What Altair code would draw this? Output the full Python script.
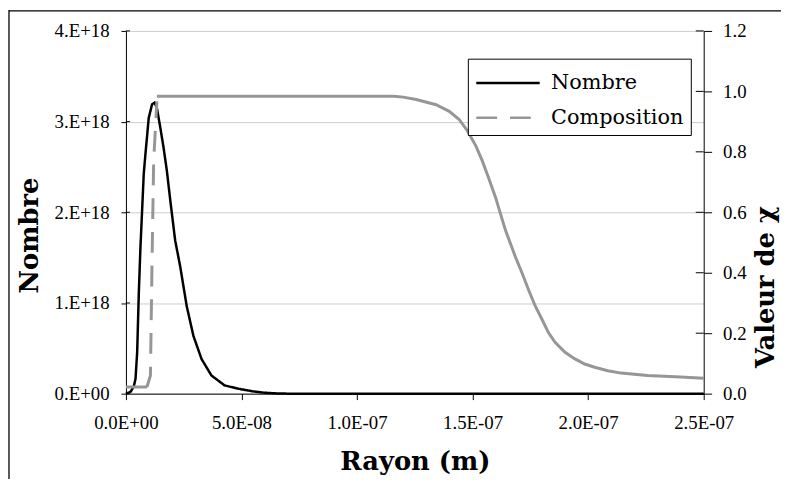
import json
import altair as alt
import pandas as pd

# ---------------- data ----------------
series = ["Nombre", "Composition"]
series_colors = ["#000000", "#969696"]

# Nombre (left axis), radius in m
nombre_r = [0.0, 2.0e-9, 3.4e-9, 4.15e-9, 4.86e-9, 5.57e-9, 6.29e-9, 7.0e-9, 7.7e-9, 8.43e-9,
            9.86e-9, 1.13e-8, 1.24e-8, 1.34e-8, 1.49e-8, 1.63e-8, 1.77e-8, 1.92e-8, 2.13e-8,
            2.35e-8, 2.63e-8, 2.92e-8, 3.27e-8, 3.70e-8, 4.27e-8, 4.85e-8, 5.5e-8, 6.0e-8,
            6.5e-8, 7.0e-8, 1.0e-7, 1.5e-7, 2.0e-7, 2.5e-7]
nombre_v = [0.0, 0.02e18, 0.08e18, 0.164e18, 0.456e18, 1.11e18, 1.62e18, 2.02e18, 2.42e18, 2.64e18,
            3.04e18, 3.19e18, 3.21e18, 3.15e18, 2.93e18, 2.71e18, 2.46e18, 2.13e18, 1.69e18,
            1.40e18, 0.965e18, 0.637e18, 0.383e18, 0.200e18, 0.091e18, 0.055e18, 0.025e18, 0.01e18,
            0.003e18, 0.0, 0.0, 0.0, 0.0, 0.0]

# Composition (right axis): low flat part, dashed rise, high part
comp_low_r = [0.0, 9.1e-9]
comp_low_v = [0.022, 0.022]
comp_rise_r = [9.1e-9, 1.06e-8, 1.13e-8, 1.20e-8, 1.34e-8]
comp_rise_v = [0.022, 0.06, 0.44, 0.77, 0.967]
comp_high_r = [1.34e-8, 1.16e-7, 1.20e-7, 1.256e-7, 1.342e-7, 1.399e-7, 1.442e-7, 1.478e-7,
               1.514e-7, 1.542e-7, 1.571e-7, 1.599e-7, 1.642e-7, 1.685e-7, 1.714e-7, 1.742e-7,
               1.771e-7, 1.80e-7, 1.828e-7, 1.857e-7, 1.90e-7, 1.943e-7, 1.985e-7, 2.028e-7,
               2.085e-7, 2.143e-7, 2.257e-7, 2.40e-7, 2.50e-7]
comp_high_v = [0.984, 0.984, 0.981, 0.973, 0.956, 0.934, 0.907, 0.869,
               0.820, 0.770, 0.710, 0.650, 0.541, 0.453, 0.399, 0.344,
               0.290, 0.246, 0.202, 0.170, 0.137, 0.115, 0.098, 0.0875,
               0.076, 0.068, 0.060, 0.055, 0.051]

x_ticks = [0.0, 5e-8, 1e-7, 1.5e-7, 2e-7, 2.5e-7]
x_tick_labels = ["0.0E+00", "5.0E-08", "1.0E-07", "1.5E-07", "2.0E-07", "2.5E-07"]
left_ticks = [0.0, 1e18, 2e18, 3e18, 4e18]
left_tick_labels = ["0.E+00", "1.E+18", "2.E+18", "3.E+18", "4.E+18"]
right_ticks = [0.0, 0.2, 0.4, 0.6, 0.8, 1.0, 1.2]

# ---------------- layout ----------------
W, H = 583, 366
PAD_L, PAD_T, PAD_R, PAD_B = 119, 21, 78, 86
LABEL_FONT = "Liberation Serif"
TITLE_FONT = "DejaVu Serif"

df_n = pd.DataFrame({"r": nombre_r, "v": nombre_v, "serie": "Nombre"})
df_rise = pd.DataFrame({"r": comp_rise_r, "c": comp_rise_v, "serie": "Composition"})
df_solid = pd.concat([
    pd.DataFrame({"r": comp_low_r, "c": comp_low_v, "seg": "low"}),
    pd.DataFrame({"r": comp_high_r, "c": comp_high_v, "seg": "high"}),
])
df_lt = pd.DataFrame({"v": left_ticks})
df_rt = pd.DataFrame({"c": right_ticks})
df_one = pd.DataFrame({"a": [0]})

xscale = alt.Scale(domain=[0, 2.5e-7], nice=False)
lscale = alt.Scale(domain=[0, 4e18], nice=False)
rscale = alt.Scale(domain=[0, 1.2], nice=False)
cscale = alt.Scale(domain=series, range=series_colors)
dscale = alt.Scale(domain=series, range=[[1, 0], [21, 13]])

x_axis = alt.Axis(values=x_ticks, labelExpr=json.dumps(x_tick_labels) + "[round(datum.value/5e-8)]",
                  title="Rayon (m)", tickSize=6, labelPadding=14, grid=False,
                  labelFlush=False, labelOverlap=False,
                  titleY=69, titleBaseline="middle")
left_axis = alt.Axis(values=left_ticks, labelExpr=json.dumps(left_tick_labels) + "[round(datum.value/1e18)]",
                     title="Nombre", tickSize=5, labelPadding=12, grid=True, gridColor="#cccccc",
                     labelFlush=False, labelOverlap=False,
                     titleX=-97, titleY=206, titleAngle=270, titleBaseline="middle", titleAlign="center")
right_axis = alt.Axis(values=right_ticks, format=".1f", orient="right", title="Valeur de χ",
                      tickSize=8, labelPadding=11, grid=False,
                      labelFlush=False, labelOverlap=False,
                      titleX=62, titleY=258, titleAngle=270, titleBaseline="middle", titleAlign="center")

legend = alt.Legend(title=None, symbolType="M-1,0H3", symbolSize=1024, labelOffset=42)

nombre = alt.Chart(df_n).mark_line(strokeWidth=2.5).encode(
    x=alt.X("r:Q", scale=xscale, axis=x_axis),
    y=alt.Y("v:Q", scale=lscale, axis=left_axis),
    color=alt.Color("serie:N", scale=cscale, legend=legend),
    strokeDash=alt.StrokeDash("serie:N", scale=dscale, legend=legend),
)
left_inner = alt.Chart(df_lt).mark_rule(color="black", strokeWidth=1).encode(
    y=alt.Y("v:Q", scale=lscale, axis=left_axis), x=alt.value(0), x2=alt.value(4))
frame_left = alt.Chart(df_one).mark_rule(color="black", strokeWidth=1.3).encode(
    x=alt.value(1 - PAD_L), y=alt.value(-PAD_T), y2=alt.value(H + PAD_B))
frame_top = alt.Chart(df_one).mark_rule(color="black", strokeWidth=1.3).encode(
    y=alt.value(0.7 - PAD_T), x=alt.value(1 - PAD_L), x2=alt.value(W + PAD_R))

rise = alt.Chart(df_rise).mark_line(strokeWidth=3).encode(
    x=alt.X("r:Q", scale=xscale, axis=x_axis),
    y=alt.Y("c:Q", scale=rscale, axis=right_axis),
    color=alt.Color("serie:N", scale=cscale, legend=legend),
    strokeDash=alt.StrokeDash("serie:N", scale=dscale, legend=legend),
)
solid = alt.Chart(df_solid).mark_line(strokeWidth=3, color=series_colors[1]).encode(
    x=alt.X("r:Q", scale=xscale, axis=x_axis),
    y=alt.Y("c:Q", scale=rscale, axis=right_axis),
    detail="seg:N",
)
right_inner = alt.Chart(df_rt).mark_rule(color="black", strokeWidth=1).encode(
    y=alt.Y("c:Q", scale=rscale, axis=right_axis), x=alt.value(W - 8), x2=alt.value(W))

left = alt.layer(frame_left, frame_top, nombre, left_inner)
right = alt.layer(solid, rise, right_inner)

chart = alt.layer(left, right).resolve_scale(y="independent").properties(
    width=W, height=H,
    padding={"left": PAD_L, "top": PAD_T, "right": PAD_R, "bottom": PAD_B},
    autosize=alt.AutoSizeParams(type="none"),
    background="white",
).configure_view(stroke="transparent").configure_axis(
    labelFont=LABEL_FONT, labelFontSize=19, labelColor="black",
    titleFont=TITLE_FONT, titleFontSize=26, titleFontWeight="bold", titleColor="black",
    domainColor="black", tickColor="black", domainWidth=1, tickWidth=1,
).configure_legend(
    orient="none", legendX=345, legendY=28, strokeColor="black", fillColor="white",
    padding=7, symbolStrokeWidth=2.5,
    labelFont=TITLE_FONT, labelFontSize=21, labelColor="black", rowPadding=7,
)

chart.save("out.html", embed_options={"renderer": "svg", "actions": False})
